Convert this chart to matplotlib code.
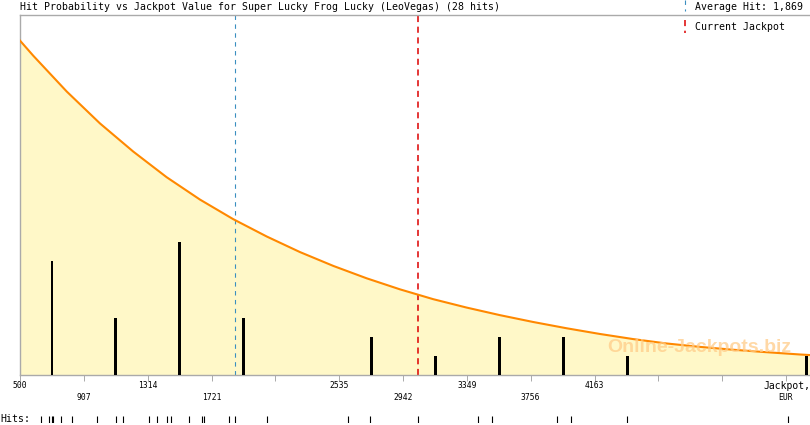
import matplotlib
matplotlib.use("Agg")
import matplotlib.pyplot as plt
from matplotlib.lines import Line2D

hit_values = [634, 685, 704, 710, 761, 832,
              989, 1112, 1159,
              1324, 1375, 1439, 1465, 1579, 1660, 1670,
              1831, 1873, 2073,
              2593, 2733,
              3040,
              3418, 3511,
              3926, 4015,
              4372,
              5397]

# histogram bars (bin centre, number of hits)
bar_centers = [704, 1112, 1520, 1928, 2744, 3152, 3560, 3968, 4376, 5515]
bar_counts = [6, 3, 7, 3, 2, 1, 2, 2, 1, 1]

# hit probability curve, in the same height units as the bars
curve_x = [500, 585, 798, 1010, 1222, 1435, 1648, 1860, 2073, 2285, 2498,
           2710, 2922, 3135, 3347, 3560, 3772, 3985, 4197, 4410, 4622,
           4835, 5047, 5260, 5472, 5537]
curve_y = [17.60, 16.80, 14.92, 13.24, 11.76, 10.41, 9.23, 8.20, 7.29, 6.47,
           5.74, 5.09, 4.51, 3.99, 3.55, 3.15, 2.79, 2.46, 2.16, 1.89, 1.66,
           1.48, 1.33, 1.20, 1.08, 1.05]

tick_values = [500, 907, 1314, 1721, 2128, 2535, 2942, 3349, 3756, 4163,
               4570, 4977, 5384]
tick_labels = ["500", "907", "1314", "1721", "", "2535", "2942", "3349",
               "3756", "4163", "", "", ""]

average_hit = 1869
current_jackpot = 3040
x_max = 5537

MONO = "DejaVu Sans Mono"
W, H = 810, 425

fig = plt.figure(figsize=(W / 100, H / 100), dpi=100)
ax = fig.add_axes([20 / W, 50 / H, 790 / W, 360 / H])

ax.fill_between(curve_x, curve_y, 0, color="#fff8c8", lw=0, zorder=1)
ax.plot(curve_x, curve_y, color="#ff8800", lw=1.5, solid_joinstyle="round",
        zorder=3)
ax.bar(bar_centers, bar_counts, width=19, color="black", zorder=4)

ax.axvline(average_hit, color="#3a8fc0", lw=0.8, ls=(0, (4, 4)), zorder=2)
ax.axvline(current_jackpot, color="#dd0000", lw=1.1, ls=(0, (4, 3)), zorder=2)

ax.text(4829, 1.47, "Online-Jackpots.biz", color="#ffcc88", alpha=0.75,
        fontsize=14, fontweight="bold", family="Liberation Sans",
        ha="center", va="center", zorder=5)

ax.set_xlim(500, x_max)
ax.set_ylim(0, 360 / 19)
ax.set_yticks([])
ax.set_xticks(tick_values)
ax.set_xticklabels([])
ax.tick_params(axis="x", direction="out", length=4, width=0.7, color="#aaaaaa")
for side in ["left", "top", "bottom"]:
    ax.spines[side].set_color("#aaaaaa")
    ax.spines[side].set_linewidth(1.0)
ax.spines["right"].set_visible(False)

# alternating two-row tick labels
trans = ax.get_xaxis_transform()
for v, lab in zip(tick_values, tick_labels):
    if not lab:
        continue
    row = -11 / 360 if v in (500, 1314, 2535, 3349, 4163) else -23 / 360
    ax.text(v, row, lab, transform=trans, ha="center", va="center",
            family=MONO, fontsize=5.8)
ax.text(1.0, -11 / 360, "Jackpot,", transform=ax.transAxes, ha="right",
        va="center", family=MONO, fontsize=7.0)
ax.text(5384, -23 / 360, "EUR", transform=trans, ha="center", va="center",
        family=MONO, fontsize=5.8)

# title and legend
fig.text(20 / W, 1 - 7 / H,
         "Hit Probability vs Jackpot Value for Super Lucky Frog Lucky (LeoVegas) (28 hits)",
         family=MONO, fontsize=7.1, va="center", ha="left")
fig.text(695 / W, 1 - 7 / H, "Average Hit: 1,869", family=MONO, fontsize=7.1,
         va="center", ha="left")
fig.text(695 / W, 1 - 27 / H, "Current Jackpot", family=MONO, fontsize=7.1,
         va="center", ha="left")
fig.add_artist(Line2D([685 / W, 685 / W], [1 - 0 / H, 1 - 11 / H],
                      transform=fig.transFigure, color="#3a8fc0", lw=0.8,
                      ls=(0, (4, 4))))
fig.add_artist(Line2D([685 / W, 685 / W], [1 - 20 / H, 1 - 33 / H],
                      transform=fig.transFigure, color="#dd0000", lw=1.1,
                      ls=(0, (4, 3))))

# hits strip
fig.text(0, 1 - 419 / H, "Hits:", family=MONO, fontsize=7.1, va="center",
         ha="left")
rug = fig.add_axes([20 / W, 2 / H, 790 / W, 7 / H])
rug.vlines(hit_values, 0, 1, color="black", lw=0.8)
rug.set_xlim(500, x_max)
rug.set_ylim(0, 1)
rug.axis("off")

fig.savefig("out.png", dpi=100)
